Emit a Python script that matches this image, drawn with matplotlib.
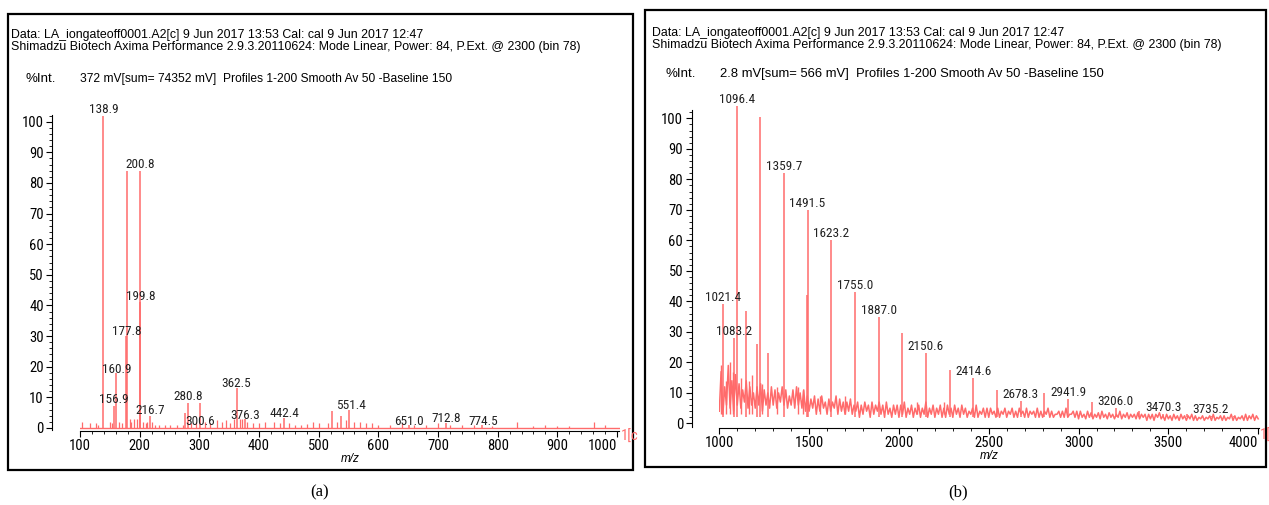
import numpy as np
import matplotlib
matplotlib.use("Agg")
import matplotlib.pyplot as plt
import matplotlib.font_manager as fm
from matplotlib.patches import Rectangle
from matplotlib.ticker import MultipleLocator

W, H = 1269, 505
RED = "#ff6b6b"

# ---- panel (a): peaks (m/z, height), label texts and label anchor points
peaks_a_mz = [138.9, 156.9, 160.9, 177.8, 178.8, 199.8, 200.8, 216.7, 275.9, 280.8,
              301.6, 362.5, 376.3, 442.4, 522.7, 536.6, 551.4, 651.0, 712.8, 774.5]
peaks_a_h = [102, 7, 18, 30, 84, 41, 84, 4, 5, 8,
             8, 13, 3, 3.3, 5.5, 4, 6, 1, 1.5, 1]
labels_a = ["138.9", "156.9", "160.9", "177.8", "", "199.8", "200.8", "216.7", "", "280.8",
            "300.6", "362.5", "376.3", "442.4", "", "", "551.4", "651.0", "712.8", "774.5"]
label_a_y = [102, 7, 17, 29.3, 0, 40.8, 84, 3.6, 0, 8,
             0, 12.5, 2, 2.7, 0, 0, 5.3, 0, 0.8, 0]
label_a_x = [139.5, 156.9, 160.9, 179.0, 0, 201.0, 201.5, 217.5, 0, 281.5,
             302.0, 362.5, 376.3, 442.4, 0, 0, 553.5, 652.0, 714.0, 775.5]
xticks_a = [100, 200, 300, 400, 500, 600, 700, 800, 900, 1000]

# small baseline spikes in (a)
noise_a_mz = [104, 117, 126, 131, 150, 153, 165, 170, 183, 186, 191, 196, 205, 210, 213,
              220, 225, 232, 243, 250, 262, 272, 286, 295, 310, 318, 330, 338, 345, 352,
              358, 368, 372, 380, 390, 400, 410, 425, 435, 450, 460, 470, 480, 490, 500,
              515, 530, 545, 560, 570, 580, 590, 600, 620, 640, 660, 680, 700, 720, 740,
              760, 790, 832, 860, 880, 900, 920, 962, 980]
noise_a_h = [2, 1.5, 1.5, 1, 2, 1.5, 2, 1.5, 3, 2, 3, 3, 2, 1.5, 2,
             2, 1, 1, 1, 1, 1, 1, 1.5, 2, 2, 1.5, 2.5, 2, 2.5, 1.5,
             3, 3, 3, 2, 1.5, 1.5, 2, 2, 1.5, 1.5, 1, 1, 1.2, 2, 1.5,
             1.5, 2, 2.5, 2, 2, 1.5, 1.5, 1, 1, 1.5, 1, 1, 1.5, 1, 1,
             1, 0.5, 2, 0.7, 1, 0.6, 0.6, 2, 0.8]

# ---- panel (b)
peaks_b_mz = [1021.4, 1083.2, 1096.4, 1147, 1208, 1227, 1270, 1359.7, 1488, 1491.5,
              1623.2, 1755.0, 1887.0, 2018, 2150.6, 2282, 2414.6, 2546, 2678.3, 2810,
              2941.9, 3073, 3206.0, 3338, 3470.3, 3602, 3735.2, 3867]
peaks_b_h = [39, 28, 104, 37, 26, 100.5, 23, 82, 42, 70,
             60, 43, 35, 29.5, 23, 17.5, 15, 11, 7.5, 10,
             8, 7, 5, 4, 3, 3, 2.5, 2.5]
labels_b = ["1021.4", "1083.2", "1096.4", "", "", "", "", "1359.7", "", "1491.5",
            "1623.2", "1755.0", "1887.0", "", "2150.6", "", "2414.6", "", "2678.3", "",
            "2941.9", "", "3206.0", "", "3470.3", "", "3735.2", ""]
xticks_b = [1000, 1500, 2000, 2500, 3000, 3500, 4000]
spikes_b_mz = [1012, 1040, 1062, 1078, 1120, 1165, 1180, 1240, 1320, 1440, 1465, 1560, 1700, 2100, 2250]
spikes_b_h = [19, 14, 20, 17, 15, 14, 16, 13, 12, 12, 11, 9, 9, 7, 7]
# noise trace, one value every 10 m/z from 1000 to 4000
noise_b = [4, 17, 3, 12, 6, 19, 5, 14, 4, 16,
           6, 13, 5, 11, 7, 14, 5, 12, 6, 10,
           5, 12, 6, 13, 4, 11, 6, 10, 5, 12,
           6, 11, 5, 10, 7, 12, 6, 11, 5, 9,
           6, 11, 5, 12, 6, 10, 5, 11, 4, 9,
           4, 8, 5, 9, 3, 8, 4, 9, 5, 7,
           3, 8, 4, 7, 5, 9, 3, 8, 4, 7,
           3, 7, 4, 8, 3, 6, 4, 7, 2, 6,
           3, 7, 4, 6, 2, 7, 3, 6, 4, 7,
           3, 6, 2, 7, 3, 5, 2, 6, 3, 6,
           2, 6, 3, 7, 2, 5, 3, 6, 2, 5,
           3, 6, 2, 5, 3, 7, 2, 5, 3, 6,
           2, 5, 3, 6, 2, 5, 2, 6, 3, 5,
           2, 6, 3, 5, 2, 6, 3, 5, 2, 4,
           3, 5, 2, 6, 2, 4, 3, 5, 2, 5,
           2, 5, 3, 4, 2, 5, 2, 4, 3, 5,
           2, 4, 3, 5, 2, 4, 2, 5, 3, 4,
           2, 5, 2, 4, 3, 4, 2, 5, 2, 4,
           2, 4, 3, 5, 2, 4, 2, 3, 3, 4,
           2, 4, 2, 5, 2, 3, 3, 4, 2, 4,
           1.5, 4, 2, 3, 1.5, 4, 2, 3.5, 1.5, 3,
           2, 3.5, 1.5, 4, 2, 3, 1.5, 3.5, 2, 3,
           1.5, 3, 2, 4, 1.5, 3, 2, 3.5, 1.5, 3,
           2, 3, 1.5, 3.5, 1.5, 3, 2, 3, 1, 3,
           1.5, 3, 1, 3, 2, 3.5, 1.5, 2.5, 1, 3,
           1.5, 2.5, 1, 3, 1.5, 2.5, 1, 3, 1.5, 2.5,
           1, 2.5, 1.5, 3, 1, 2.5, 1, 2, 1.5, 2.5,
           1, 2, 1.5, 2.5, 1, 3, 1, 2, 1.5, 2.5,
           1, 2.5, 1, 2, 1.5, 3, 1, 2.5, 1, 2,
           1.5, 2.5, 1, 3, 1, 2.5, 1.5, 3, 1, 2.5,
           1.5]
noise_b_mz = np.linspace(1000, 4000, len(noise_b))

header1 = "Data: LA_iongateoff0001.A2[c] 9 Jun 2017 13:53 Cal: cal 9 Jun 2017 12:47"
header2 = "Shimadzu Biotech Axima Performance 2.9.3.20110624: Mode Linear, Power: 84, P.Ext. @ 2300 (bin 78)"
info_a = "372 mV[sum= 74352 mV]  Profiles 1-200 Smooth Av 50 -Baseline 150"
info_b = "2.8 mV[sum= 566 mV]  Profiles 1-200 Smooth Av 50 -Baseline 150"

# narrow sans face for the numbers if one is installed
FP = fm.FontProperties(family="Liberation Sans")
narrow = [f for f in fm.fontManager.ttflist
          if ("Narrow" in f.name or "Condensed" in f.name or f.stretch in ("condensed", "semi-condensed"))
          and f.style == "normal" and f.weight in (400, "normal", "regular")]
order = ["Liberation Sans Narrow", "Roboto Condensed", "DejaVu Sans Condensed", "DejaVu Sans",
         "Open Sans Condensed", "Noto Sans"]
narrow.sort(key=lambda f: order.index(f.name) if f.name in order else 99)
if narrow:
    FP = fm.FontProperties(fname=narrow[0].fname)


def fp(size):
    p = FP.copy()
    p.set_size(size)
    return p


fig = plt.figure(figsize=(W / 100, H / 100), dpi=100)


def fx(x):
    return x / W


def fy(y):
    return 1 - y / H


def fit_text(x, y, s, width):
    # header text in an Arial-like face, sized so it spans the same width as in the picture
    t = fig.text(fx(x), fy(y), s, fontsize=8, family="Liberation Sans", va="center")
    fig.canvas.draw()
    t.set_fontsize(8 * width / t.get_window_extent().width)
    return t


def make_axes(left, right, top, bottom):
    return fig.add_axes([fx(left), fy(bottom), fx(right - left), (bottom - top) / H])


def style_axes(ax, xticks, xmin):
    for s in ["top", "right"]:
        ax.spines[s].set_visible(False)
    ax.spines["left"].set_position(("outward", 20))
    ax.set_yticks(range(0, 101, 10))
    ax.set_yticks(np.arange(0, 103, 2), minor=True)
    ax.set_xticks(xticks)
    ax.xaxis.set_minor_locator(MultipleLocator(xmin))
    ax.tick_params(which="major", length=4, width=0.8, pad=2)
    ax.tick_params(which="minor", length=2, width=0.6)
    for lab in ax.get_xticklabels() + ax.get_yticklabels():
        lab.set_fontproperties(fp(10.5))
    # last label sits left of its tick, as in the instrument print-out
    ax.get_xticklabels()[-1].set_horizontalalignment("right")
    ax.patch.set_alpha(0)


# ---------------- panel (a)
axa = make_axes(80, 620, 109.4, 431)
axa.set_xlim(100, 1005)
axa.set_ylim(-1, 104)
axa.plot([100, 1003], [0, 0], color=RED, lw=1)
axa.vlines(noise_a_mz, 0, noise_a_h, color=RED, lw=0.9)
axa.vlines(peaks_a_mz, 0, peaks_a_h, color=RED, lw=1.1)
for t, x, y in zip(labels_a, label_a_x, label_a_y):
    if t:
        axa.text(x, y, t, ha="center", va="bottom", fontproperties=fp(9.5),
                 color="#222222", clip_on=False)
axa.spines["left"].set_bounds(-0.7, 102.3)
axa.spines["bottom"].set_bounds(100, 1003)
style_axes(axa, xticks_a, 20)

# ---------------- panel (b)
axb = make_axes(719.3, 1260, 100, 428)
axb.set_xlim(1000, 4010)
axb.set_ylim(-1.5, 106)
axb.plot(noise_b_mz, noise_b, color=RED, lw=1.1)
axb.vlines(spikes_b_mz, 3, spikes_b_h, color=RED, lw=1)
axb.vlines(peaks_b_mz, 2, peaks_b_h, color=RED, lw=1.1)
for t, x, y in zip(labels_b, peaks_b_mz, peaks_b_h):
    if t:
        axb.text(x, y, t, ha="center", va="bottom", fontproperties=fp(9.5),
                 color="#222222", clip_on=False)
axb.spines["left"].set_bounds(-1.2, 102.7)
axb.spines["bottom"].set_bounds(1000, 4005)
style_axes(axb, xticks_b, 100)

# ---------------- frames and text
fig.add_artist(Rectangle((fx(8), fy(470)), fx(625), (470 - 14) / H, transform=fig.transFigure,
                         fill=False, lw=1.6, edgecolor="black"))
fig.add_artist(Rectangle((fx(645), fy(467)), fx(621), (467 - 10) / H, transform=fig.transFigure,
                         fill=False, lw=1.6, edgecolor="black"))

fit_text(11, 35, header1, 414)
fit_text(11, 47, header2, 574)
fit_text(25, 79, "%Int.", 30)
fit_text(80, 79, info_a, 372)
fit_text(652, 33, header1, 414)
fit_text(652, 45, header2, 574)
fit_text(665, 74, "%Int.", 30)
fit_text(720, 74, info_b, 385)

fig.text(fx(350), fy(459), "m/z", fontsize=8.5, family="Liberation Sans", style="italic",
         ha="center", va="center")
fig.text(fx(989), fy(456), "m/z", fontsize=8.5, family="Liberation Sans", style="italic",
         ha="center", va="center")
fig.text(fx(621), fy(437), "1[c", fontproperties=fp(10.5), color=RED, va="center")
fig.text(fx(1260), fy(436), "1[", fontproperties=fp(10.5), color=RED, va="center")

fig.text(fx(320), fy(492), "(a)", fontsize=12, family="Liberation Serif", ha="center", va="center")
fig.text(fx(958), fy(492), "(b)", fontsize=12, family="Liberation Serif", ha="center", va="center")

fig.savefig("out.png", dpi=100)
